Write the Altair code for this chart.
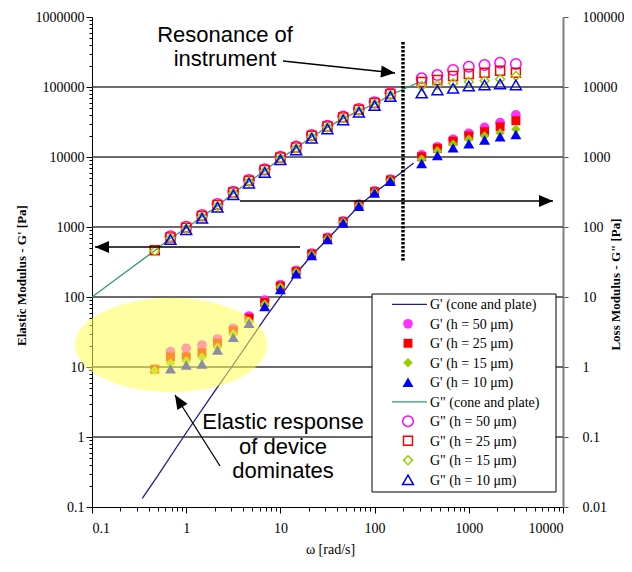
import altair as alt
import pandas as pd

# ---------------- data ----------------
omega = [0.464, 0.681, 1.0, 1.47, 2.15, 3.16, 4.64, 6.81, 10.0, 14.7, 21.5, 31.6,
         46.4, 68.1, 100.0, 147.0, 316.0, 464.0, 681.0, 1000.0, 1470.0, 2150.0, 3160.0]

# G' (elastic modulus, Pa) - left axis
gp_50 = [None, 16.6, 18.5, 20.6, 25.1, 35.7, 53.5, 90, 150, 240, 425, 710, 1220, 2120, 3280, 4820,
         10700, 14000, 17900, 21800, 26500, 31000, 40000]
gp_25 = [9.3, 13.9, 14.0, 16.0, 21.8, 33.0, 49.6, 84, 143, 232, 412, 692, 1190, 2070, 3200, 4700,
         10100, 13300, 16800, 20000, 23000, 27000, 33000]
gp_15 = [8.9, 11.4, 12.2, 13.8, 19.1, 29.6, 45.4, 79, 139, 228, 405, 682, 1180, 2040, 3150, 4640,
         9300, 12200, 15200, 18000, 20000, 22000, 25000]
gp_10 = [None, 9.4, 10.7, 11.0, 17.5, 26.5, 42.1, 73, 128, 215, 390, 660, 1140, 1980, 3060, 4500,
         8100, 10500, 13500, 15500, 17500, 19500, 21000]

# G" (loss modulus, Pa) - right axis
gpp_50 = [None, 74, 101, 148, 213, 320, 470, 670, 1010, 1410, 2070, 2800, 3780, 4850, 6060, 8150,
          13300, 14800, 17500, 19500, 20600, 22200, 21300]
gpp_25 = [46.5, 71, 98, 144, 207, 312, 457, 650, 985, 1370, 2010, 2730, 3680, 4720, 5890, 7920,
          11800, 12600, 14400, 15300, 16000, 17100, 16000]
gpp_15 = [45.5, 69, 95, 140, 200, 303, 444, 630, 957, 1330, 1950, 2650, 3570, 4580, 5720, 7690,
          10300, 10700, 11300, 11900, 12300, 12900, 14400]
gpp_10 = [None, 66, 91, 133, 191, 288, 422, 600, 910, 1260, 1850, 2520, 3390, 4350, 5430, 7300,
          8200, 9060, 9580, 10300, 10700, 11000, 10700]

# cone and plate curves
cp_gp_omega = [0.342, 0.5, 1.0, 2.0, 3.04, 4.64, 6.81, 10.0, 14.7, 21.5, 31.6, 46.4, 68.1, 100.0, 147.0, 260.0]
cp_gp = [0.133, 0.28, 1.15, 4.5, 10, 23, 49, 100, 215, 395, 670, 1160, 2000, 3100, 4550, 8200]
cp_gpp_omega = [0.1, 0.2, 0.464, 0.681, 1.0, 1.47, 2.15, 3.16, 4.64, 6.81, 10.0, 14.7, 21.5, 31.6,
                46.4, 68.1, 100.0, 147.0, 290.0]
cp_gpp = [10, 20, 46, 69, 96, 140, 200, 303, 444, 630, 957, 1330, 1950, 2650, 3570, 4580, 5720, 7690, 11500]

legend_labels = ["G' (cone and plate)", "G' (h = 50 \u03bcm)", "G' (h = 25 \u03bcm)", "G' (h = 15 \u03bcm)",
                 "G' (h = 10 \u03bcm)", 'G" (cone and plate)', 'G" (h = 50 \u03bcm)', 'G" (h = 25 \u03bcm)',
                 'G" (h = 15 \u03bcm)', 'G" (h = 10 \u03bcm)']

left_ticks = [0.1, 1, 10, 100, 1000, 10000, 100000, 1000000]
right_ticks = [0.01, 0.1, 1, 10, 100, 1000, 10000, 100000]
x_ticks = [0.1, 1, 10, 100, 1000, 10000]
grid_vals = [1, 10, 100, 1000, 10000, 100000]
minor_mult = [2, 3, 4, 5, 6, 7, 8, 9]
x_minor = [m * 10.0 ** e for e in range(-1, 4) for m in minor_mult]
y_minor = [m * 10.0 ** e for e in range(-1, 6) for m in minor_mult]

# ---------------- layout ----------------
W, H = 471, 490
SERIF = "Liberation Serif"
SANS = "Liberation Sans"
LBL = "datum.value >= 1 ? format(datum.value, 'd') : format(datum.value, '.2~f')"

xs = alt.Scale(type="log", domain=[0.1, 10000], nice=False)
yl = alt.Scale(type="log", domain=[0.1, 1000000], nice=False)
yr = alt.Scale(type="log", domain=[0.01, 100000], nice=False)

C_GP_LINE = "#1c1c8c"
C_GPP_LINE = "#339966"


def frame(xv, yv):
    return pd.DataFrame([{"w": a, "v": b} for a, b in zip(xv, yv) if b is not None])


layers = []

# gridlines + left major axis
left_axis = alt.Axis(values=left_ticks, labelExpr=LBL, orient="left", grid=False, tickSize=6,
                     labelPadding=2, labelFont=SERIF, labelFontSize=14, labelColor="black",
                     tickColor="black", domainColor="black",
                     title="Elastic Modulus - G' [Pa]", titleFont=SERIF, titleFontSize=13,
                     titleFontWeight="bold", titleColor="black", titleAngle=270,
                     titleX=-71, titleY=258, titleAlign="center", titleBaseline="middle")
layers.append(
    alt.Chart(pd.DataFrame({"v": grid_vals})).mark_rule(color="#3a3a3a", strokeWidth=1.3).encode(
        y=alt.Y("v:Q", scale=yl, axis=left_axis), x=alt.value(0), x2=alt.value(W))
)

# G' cone and plate line (carries bottom major axis and left minor ticks)
x_axis = alt.Axis(values=x_ticks, labelExpr=LBL, orient="bottom", grid=False, tickSize=6,
                  labelPadding=8, labelFont=SERIF, labelFontSize=14, labelColor="black",
                  tickColor="black", domainColor="black",
                  title="\u03c9 [rad/s]", titleFont=SERIF, titleFontSize=14, titleFontWeight="normal",
                  titleColor="black", titleX=238, titleY=42, titleAlign="center", titleBaseline="middle")
y_minor_axis = alt.Axis(values=y_minor, labels=False, domain=False, grid=False, tickSize=3,
                        tickColor="black", title=None, orient="left")
layers.append(
    alt.Chart(frame(cp_gp_omega, cp_gp)).mark_line(color=C_GP_LINE, strokeWidth=1.3).encode(
        x=alt.X("w:Q", scale=xs, axis=x_axis), y=alt.Y("v:Q", scale=yl, axis=y_minor_axis))
)

# G" cone and plate line (carries bottom minor ticks and right axis)
x_minor_axis = alt.Axis(values=x_minor, labels=False, domain=False, grid=False, tickSize=4,
                        tickColor="black", title=None, orient="bottom")
right_axis = alt.Axis(values=right_ticks, labelExpr=LBL, orient="right", grid=False, tickSize=5,
                      labelPadding=14, labelFont=SERIF, labelFontSize=14, labelColor="black",
                      tickColor="#555555", domainColor="#808080", domainWidth=2,
                      title='Loss Modulus - G" [Pa]', titleFont=SERIF, titleFontSize=13,
                      titleFontWeight="bold", titleColor="black", titleAngle=270,
                      titleX=52, titleY=267, titleAlign="center", titleBaseline="middle")
layers.append(
    alt.Chart(frame(cp_gpp_omega, cp_gpp)).mark_line(color=C_GPP_LINE, strokeWidth=1.3).encode(
        x=alt.X("w:Q", scale=xs, axis=x_minor_axis), y=alt.Y("v:Q", scale=yr, axis=right_axis))
)

# marker series: (values, scale, shape, color, filled, size)
marker_specs = [
    (gp_50, yl, "circle", "#ff33ff", True, 95),
    (gp_25, yl, "square", "#ff0000", True, 80),
    (gp_15, yl, "diamond", "#99cc00", True, 90),
    (gp_10, yl, "triangle-up", "#0000ff", True, 120),
    (gpp_50, yr, "circle", "#ff00ff", False, 110),
    (gpp_25, yr, "square", "#ff0000", False, 80),
    (gpp_15, yr, "diamond", "#99cc00", False, 80),
    (gpp_10, yr, "triangle-up", "#0000ff", False, 120),
]
for vals, sc, shp, col, fill, sz in marker_specs:
    layers.append(
        alt.Chart(frame(omega, vals)).mark_point(shape=shp, filled=fill, color=col, size=sz,
                                                 opacity=1, strokeWidth=1.5).encode(
            x=alt.X("w:Q", scale=xs, axis=None), y=alt.Y("v:Q", scale=sc, axis=None))
    )

# ---------------- annotations (pixel positions inside the plot area) ----------------
ARROW = "M0,0 L-1,-0.43 L-1,0.43 Z"
arrows = [  # tail x, tail y, tip x, tip y, angle
    (191, 44, 303, 56, 6),
    (208, 230, 3, 230, 180),
    (148, 184, 461, 184, 0),
    (128, 449, 83, 378, 238),
]
for tx, ty, hx, hy, ang in arrows:
    layers.append(alt.Chart().mark_rule(color="black", strokeWidth=1.3).encode(
        x=alt.value(tx), y=alt.value(ty), x2=alt.value(hx), y2=alt.value(hy)))
    layers.append(alt.Chart().mark_point(shape=ARROW, filled=True, color="black", opacity=1,
                                         size=784, angle=ang).encode(
        x=alt.value(hx), y=alt.value(hy)))

# resonance dotted line
layers.append(alt.Chart().mark_rule(color="black", strokeWidth=3.5, strokeDash=[2.5, 1.5]).encode(
    x=alt.value(311), y=alt.value(25), y2=alt.value(245)))

layers.append(alt.Chart().mark_text(font=SANS, fontSize=22, align="center", baseline="alphabetic",
                                    lineHeight=24, color="black").encode(
    x=alt.value(133), y=alt.value(25), text=alt.value(["Resonance of", "instrument"])))
layers.append(alt.Chart().mark_text(font=SANS, fontSize=22, align="center", baseline="alphabetic",
                                    lineHeight=24.5, color="black").encode(
    x=alt.value(191), y=alt.value(412),
    text=alt.value(["Elastic response", "of device", "dominates"])))

# yellow ellipse highlighting device response
ELLIPSE = "M-1,0 A1,0.49 0 1,0 1,0 A1,0.49 0 1,0 -1,0 Z"
layers.append(alt.Chart().mark_point(shape=ELLIPSE, filled=True, color="#ffff55", opacity=0.55,
                                     size=36864, strokeWidth=0).encode(
    x=alt.value(79), y=alt.value(328)))

# ---------------- legend ----------------
layers.append(alt.Chart().mark_rect(fill="white", stroke="black", strokeWidth=1).encode(
    x=alt.value(280), x2=alt.value(464), y=alt.value(277), y2=alt.value(475)))
row_y0, row_dy = 287.3, 19.5
legend_marks = [("line", C_GP_LINE)] + [("pt", i) for i in range(4)] + \
               [("line", C_GPP_LINE)] + [("pt", i) for i in range(4, 8)]
for r, (kind, info) in enumerate(legend_marks):
    yy = row_y0 + row_dy * r
    if kind == "line":
        layers.append(alt.Chart().mark_rule(color=info, strokeWidth=1.3).encode(
            x=alt.value(300), x2=alt.value(335), y=alt.value(yy)))
    else:
        _, _, shp, col, fill, sz = marker_specs[info]
        layers.append(alt.Chart().mark_point(shape=shp, filled=fill, color=col, size=sz, opacity=1,
                                             strokeWidth=1.5).encode(
            x=alt.value(316), y=alt.value(yy)))
layers.append(alt.Chart().mark_text(font=SERIF, fontSize=14, align="left", baseline="alphabetic",
                                    lineHeight=row_dy, color="black").encode(
    x=alt.value(338), y=alt.value(row_y0 + 4.8), text=alt.value(legend_labels)))

chart = alt.layer(*layers).resolve_scale(y="independent").resolve_axis(
    x="independent", y="independent").properties(
    width=W, height=H,
    padding={"left": 84, "top": 9, "right": 61, "bottom": 57},
    autosize=alt.AutoSizeParams(type="none"),
    background="white",
).configure_view(stroke=None)

chart.save("out.html", embed_options={"renderer": "svg", "actions": False})
